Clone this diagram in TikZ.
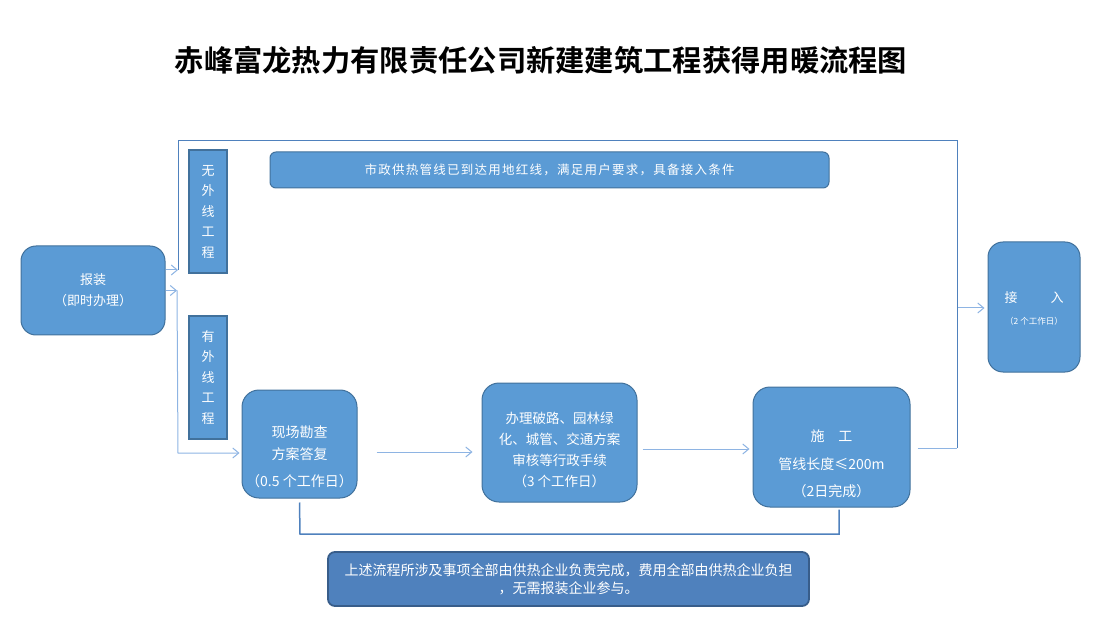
\documentclass[tikz,border=0pt]{standalone}
\usepackage{fontspec}
\setmainfont{Noto Sans CJK SC}
\newfontfamily\titlefont{Noto Sans CJK SC Bold}
\usetikzlibrary{arrows.meta,calc}
\definecolor{boxfill}{HTML}{5B9BD5}
\definecolor{boxline}{HTML}{41719C}
\definecolor{darkfill}{HTML}{4F81BD}
\definecolor{darkline}{HTML}{385D8A}
\definecolor{arrcol}{HTML}{8EB4E3}
\definecolor{framecol}{HTML}{4F81BD}
\tikzset{
  rbox/.style={draw=boxline, line width=1pt, fill=boxfill, text=white, rounded corners=15pt, align=center, inner sep=0pt, font=\fontsize{13}{21}\selectfont},
  btext/.style={text=white, align=center, inner sep=0pt},
  vbox/.style={draw=boxline, line width=2pt, fill=boxfill, text=white, align=center, inner sep=0pt, minimum width=38pt, minimum height=123pt, font=\fontsize{13}{20.5}\selectfont},
  arr/.style={draw=arrcol, line width=1pt, -{Straight Barb[length=6pt,width=10pt]}},
  plainline/.style={draw=arrcol, line width=1pt},
  frameline/.style={draw=framecol, line width=1pt},
  bline/.style={draw=framecol, line width=1.5pt},
}
\begin{document}
\begin{tikzpicture}[x=1pt,y=-1pt]
\useasboundingbox (0,0) rectangle (1096,639);

\node[font=\titlefont\fontsize{29.3}{32}\selectfont] (title) at (541,60) {赤峰富龙热力有限责任公司新建建筑工程获得用暖流程图};

\node[rbox, minimum width=144pt, minimum height=89pt] (bz) at (93,290.5) {报装\\（即时办理）};
\node[vbox] (wu) at (208,211.5) {无\\外\\线\\工\\程};
\node[vbox] (you) at (208,377.5) {有\\外\\线\\工\\程};
\node[rbox, rounded corners=6pt, minimum width=559pt, minimum height=36pt, font=\fontsize{12.5}{14}\selectfont\addfontfeature{LetterSpace=10}] (top) at (549.5,170) {市政供热管线已到达用地红线，满足用户要求，具备接入条件};

\node[rbox, rounded corners=17pt, minimum width=115pt, minimum height=108pt] (xc) at (299.5,444) {};
\node[btext, font=\fontsize{14}{22}\selectfont] (xct) at ([yshift=-13pt]xc.center) {现场勘查\\方案答复\\[5pt]（0.5 个工作日）};

\node[rbox, rounded corners=17pt, minimum width=155pt, minimum height=119pt] (bl) at (559.5,442.5) {};
\node[btext, font=\fontsize{13.5}{20.7}\selectfont] (blt) at ([yshift=-7.5pt]bl.center) {办理破路、园林绿\\化、城管、交通方案\\审核等行政手续\\（3 个工作日）};

\node[rbox, rounded corners=17pt, minimum width=157pt, minimum height=120pt] (sg) at (831.5,447) {};
\node[btext, font=\fontsize{14}{27.5}\selectfont] (sgt) at ([yshift=-17pt]sg.center) {施\quad 工\\管线长度≤200m\\（2日完成）};

\node[rbox, rounded corners=15pt, minimum width=92pt, minimum height=130pt] (jr) at (1034,307) {};
\node[btext, font=\fontsize{13}{15}\selectfont] (jrt) at (1034,298) {接\hspace{33pt}入};
\node[btext, font=\fontsize{8.5}{10}\selectfont] (jrs) at (1034,321) {（2 个工作日）};

\node[draw=darkline, line width=1.8pt, fill=darkfill, text=white, rounded corners=7pt, align=center, inner sep=0pt, minimum width=481pt, minimum height=54pt, font=\fontsize{14}{18}\selectfont] (note) at (568.5,579) {上述流程所涉及事项全部由供热企业负责完成，费用全部由供热企业负担\\，无需报装企业参与。};

% frame route for 无外线工程
\coordinate (f1) at (178,270);
\coordinate (ftl) at (178,141);
\coordinate (ftr) at (957,141);
\coordinate (fbr) at (957,448);
\coordinate (j1) at (958,308);
\draw[arr] ([yshift=20.5pt]bz.east) -- (f1);
\draw[frameline] (f1) -- (ftl) -- (ftr) -- (fbr);
\draw[plainline] ([xshift=7pt]sg.east |- fbr) -- (fbr);
\draw[arr] (j1) -- ([xshift=-3pt]jr.west |- j1);

% route for 有外线工程
\coordinate (f2) at (177,290.5);
\coordinate (f3) at (178,453);
\draw[arr] (bz.east) -- (f2);
\draw[arr] (f2) -- (f3) -- ([xshift=-2pt,yshift=-9pt]xc.west);

\draw[arr] ([xshift=19pt,yshift=-8pt]xc.east) -- ([xshift=-9pt,yshift=-9.5pt]bl.west);
\draw[arr] ([xshift=5pt,yshift=-6.5pt]bl.east) -- ([xshift=-3pt,yshift=-2pt]sg.west);

% bottom line
\coordinate (b1) at (300,534);
\coordinate (b2) at (839,534);
\draw[bline] ([yshift=-4pt]xc.south) -- (b1) -- (b2) -- ([xshift=7.5pt,yshift=-2pt]sg.south);
\end{tikzpicture}
\end{document}
